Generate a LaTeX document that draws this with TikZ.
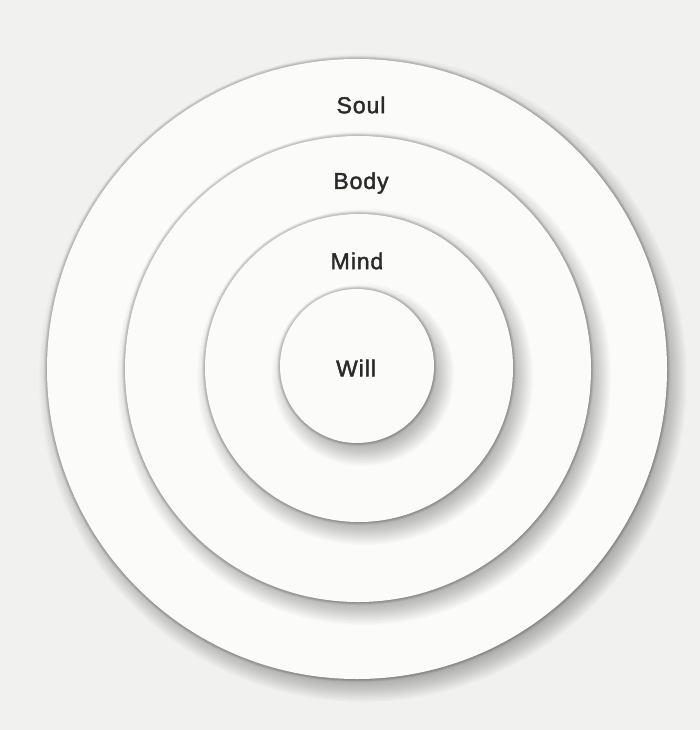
\documentclass[tikz,border=0pt]{standalone}
\usepackage{fontspec}
\newfontfamily\lblfont[LetterSpace=4,FakeBold=1.8]{Liberation Sans}
\definecolor{paper}{HTML}{F1F2EF}
\definecolor{disc}{HTML}{FBFCFA}
\definecolor{ink}{HTML}{2A2A2A}
\tikzset{
  ring/.style={circle, fill=disc, inner sep=0pt},
  lbl/.style={font=\lblfont\fontsize{23}{25}\selectfont, text=ink, inner sep=0pt}
}
\newcommand{\softdisc}[3]{% x, y, radius
  \foreach \k in {0,...,15}{
    \fill[black, opacity=0.02] (#1+6,#2+9) circle[radius=#3+14-1.5*\k];
  }
  \foreach \k in {0,...,4}{
    \fill[black, opacity=0.045] (#1,#2) circle[radius=#3+3-0.6*\k];
  }
}
\begin{document}
\begin{tikzpicture}[x=1pt,y=-1pt]
\fill[paper] (0,0) rectangle (700,730);
\useasboundingbox (0,0) rectangle (700,730);
\softdisc{357}{369}{310}
\node[ring, minimum size=620pt] (soulc) at (357,369) {};
\softdisc{358}{369}{233}
\node[ring, minimum size=466pt] (bodyc) at (358,369) {};
\softdisc{359}{368}{154}
\node[ring, minimum size=308pt] (mindc) at (359,368) {};
\softdisc{357}{366}{77}
\node[ring, minimum size=154pt] (willc) at (357,366) {};
\node[lbl] (soul) at (361,105) {Soul};
\node[lbl] (body) at (361,183) {Body};
\node[lbl] (mind) at (357,261) {Mind};
\node[lbl] (will) at (356,368) {Will};
\end{tikzpicture}
\end{document}
